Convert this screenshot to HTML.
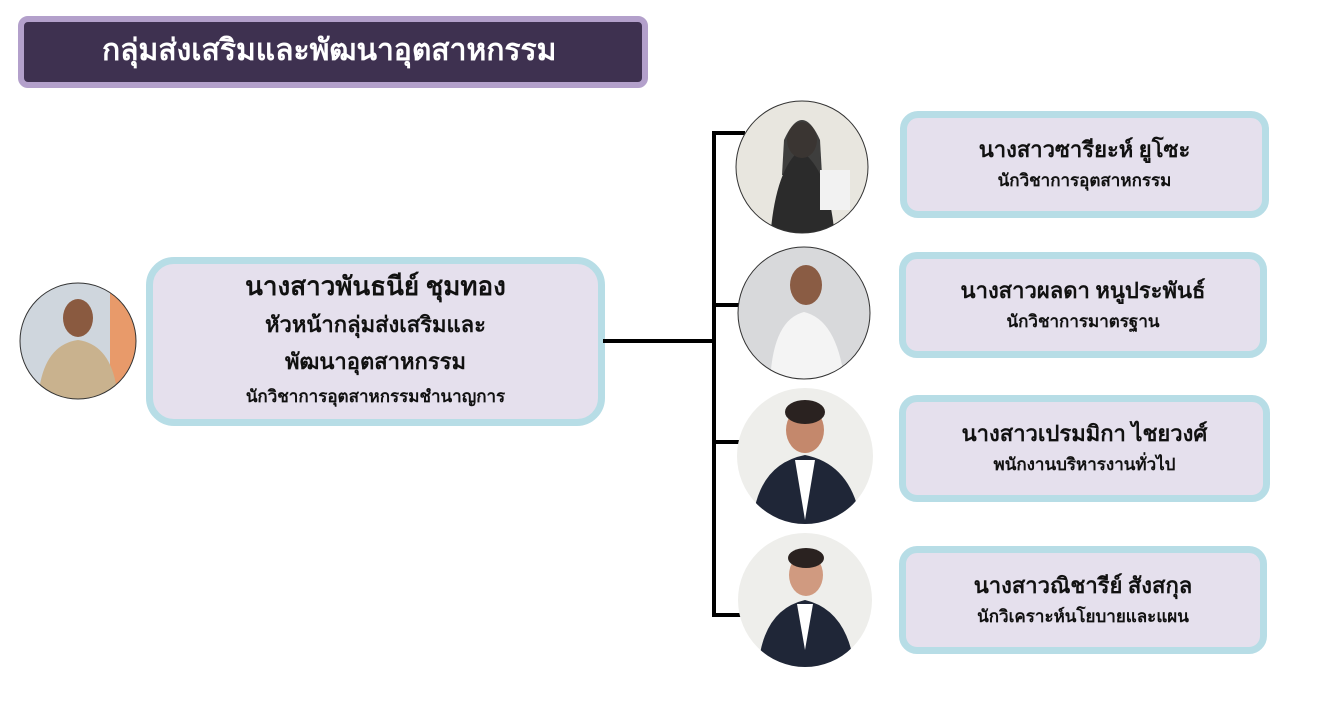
<!DOCTYPE html>
<html><head><meta charset="utf-8"><style>
body{margin:0;width:1323px;height:720px;background:#fff;position:relative;overflow:hidden;font-family:"Liberation Serif","Noto Serif CJK SC",serif;font-weight:bold;color:#111}
.b{position:absolute;box-sizing:border-box;background:#e5e0ed;border:7px solid #b7dde6;border-radius:18px;text-align:center}
.t{position:absolute;left:18px;top:16px;width:630px;height:72px;box-sizing:border-box;background:#3e3150;border:6px solid #b3a0cb;border-radius:10px;color:#fff;font-size:30px;line-height:58px;padding-left:0;text-align:left;text-indent:78px}
.n{font-size:22px;line-height:30px}
.s{font-size:17px;line-height:32px}
.ln{position:absolute;background:#000}
</style></head><body>
<div class="t">กลุ่มส่งเสริมและพัฒนาอุตสาหกรรม</div>

<div class="b" style="left:146px;top:257px;width:459px;height:169px;border-radius:28px;padding-top:4px">
<div style="font-size:26px;line-height:38px">นางสาวพันธนีย์ ชุมทอง</div>
<div style="font-size:22px;line-height:38px">หัวหน้ากลุ่มส่งเสริมและ</div>
<div style="font-size:22px;line-height:36px">พัฒนาอุตสาหกรรม</div>
<div style="font-size:17px;line-height:34px">นักวิชาการอุตสาหกรรมชำนาญการ</div>
</div>

<div class="ln" style="left:603px;top:339px;width:112px;height:4px"></div>
<div class="ln" style="left:712px;top:131px;width:4px;height:486px"></div>
<div class="ln" style="left:712px;top:131px;width:33px;height:4px"></div>
<div class="ln" style="left:712px;top:303px;width:30px;height:4px"></div>
<div class="ln" style="left:712px;top:440px;width:30px;height:4px"></div>
<div class="ln" style="left:712px;top:613px;width:30px;height:4px"></div>

<svg style="position:absolute;left:0;top:0" width="1323" height="720">
<defs>
<clipPath id="c0"><circle cx="78" cy="341" r="58"/></clipPath>
<clipPath id="c1"><circle cx="802" cy="167" r="66"/></clipPath>
<clipPath id="c2"><circle cx="804" cy="313" r="66"/></clipPath>
<clipPath id="c3"><circle cx="805" cy="456" r="68"/></clipPath>
<clipPath id="c4"><circle cx="805" cy="600" r="67"/></clipPath>
</defs>
<g clip-path="url(#c0)"><rect x="0" y="270" width="160" height="140" fill="#cfd6dd"/><rect x="110" y="280" width="30" height="120" fill="#e89a6a"/><ellipse cx="78" cy="318" rx="15" ry="19" fill="#8a5a40"/><path d="M38 400 Q42 345 78 340 Q114 345 118 400Z" fill="#c9b28e"/></g>
<circle cx="78" cy="341" r="58" fill="none" stroke="#333" stroke-width="1"/>
<g clip-path="url(#c1)"><rect x="730" y="95" width="150" height="150" fill="#e8e6df"/><path d="M770 240 Q775 170 800 150 Q830 170 835 240Z" fill="#2b2b2b"/><ellipse cx="802" cy="140" rx="15" ry="18" fill="#c49070"/><path d="M784 140 Q802 100 820 140 L822 175 L782 175Z" fill="#2b2b2b" opacity=".9"/><rect x="820" y="170" width="30" height="40" fill="#f2f2f2"/></g>
<circle cx="802" cy="167" r="66" fill="none" stroke="#333" stroke-width="1"/>
<g clip-path="url(#c2)"><rect x="735" y="245" width="140" height="140" fill="#d8d9db"/><path d="M770 385 Q772 320 804 312 Q838 320 845 385Z" fill="#f4f4f4"/><ellipse cx="806" cy="285" rx="16" ry="20" fill="#8a5c44"/></g>
<circle cx="804" cy="313" r="66" fill="none" stroke="#333" stroke-width="1"/>
<g clip-path="url(#c3)"><rect x="735" y="385" width="145" height="145" fill="#eeeeeb"/><path d="M752 530 Q755 465 805 455 Q855 465 862 530Z" fill="#1f2637"/><path d="M795 460 L815 460 L805 520Z" fill="#fff"/><ellipse cx="805" cy="430" rx="19" ry="23" fill="#c4886c"/><ellipse cx="805" cy="412" rx="20" ry="12" fill="#2a2220"/></g>
<g clip-path="url(#c4)"><rect x="735" y="530" width="145" height="145" fill="#eeeeeb"/><path d="M758 670 Q762 610 805 600 Q848 610 855 670Z" fill="#1f2637"/><path d="M797 604 L813 604 L805 650Z" fill="#fff"/><ellipse cx="806" cy="575" rx="17" ry="21" fill="#d09a80"/><ellipse cx="806" cy="558" rx="18" ry="10" fill="#2a2220"/></g>
</svg>

<div class="b" style="left:900px;top:111px;width:369px;height:107px;padding-top:17px"><div class="n">นางสาวซารียะห์ ยูโซะ</div><div class="s">นักวิชาการอุตสาหกรรม</div></div>
<div class="b" style="left:899px;top:252px;width:368px;height:106px;padding-top:17px"><div class="n">นางสาวผลดา หนูประพันธ์</div><div class="s">นักวิชาการมาตรฐาน</div></div>
<div class="b" style="left:899px;top:395px;width:371px;height:107px;padding-top:17px"><div class="n">นางสาวเปรมมิกา ไชยวงศ์</div><div class="s">พนักงานบริหารงานทั่วไป</div></div>
<div class="b" style="left:899px;top:546px;width:368px;height:108px;padding-top:18px"><div class="n">นางสาวณิชารีย์ สังสกุล</div><div class="s">นักวิเคราะห์นโยบายและแผน</div></div>
</body></html>
